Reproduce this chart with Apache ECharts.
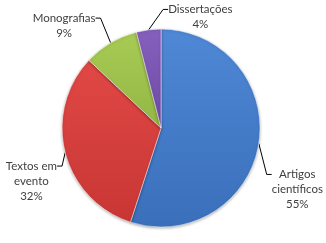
<!DOCTYPE html>
<html><head><meta charset="utf-8">
<script src="https://cdn.jsdelivr.net/npm/echarts@6/dist/echarts.min.js"></script>
<style>html,body{margin:0;padding:0;background:#fff}#c{width:326px;height:243px}</style>
</head><body><div id="c"></div>
<script>
const categories = ['Artigos científicos', 'Textos em evento', 'Monografias', 'Dissertações'];
const labelLines = [['Artigos', 'científicos'], ['Textos em', 'evento'], ['Monografias'], ['Dissertações']];
const values = [55, 32, 9, 4];
const colorsTop = ['#4f88d6', '#e04845', '#a8cb55', '#8660bd'];
const colorsBottom = ['#3a6fba', '#c83634', '#93b744', '#6c4aa3'];
const labelShift = [[-4, 29], [8.5, 10.4], [-4, -14.4], [26, -8.5]];
const labelAlign = ['left', 'right', 'right', 'left'];

const chart = echarts.init(document.getElementById('c'), null, {renderer: 'canvas'});
const LH = 15;
const data = categories.map((name, i) => {
  const nLines = labelLines[i].length + 1;
  return {
    name: name,
    value: values[i],
    itemStyle: {
      color: {type: 'linear', x: 0, y: 0, x2: 0, y2: 1, colorStops: [
        {offset: 0, color: colorsTop[i]}, {offset: 1, color: colorsBottom[i]}]}
    },
    label: {padding: [(nLines - 1) * LH, 0, 0, 0]}
  };
});
chart.setOption({
  animation: false,
  series: [{
    type: 'pie',
    center: ['49.4%', '52.7%'],
    radius: 99,
    startAngle: 90,
    clockwise: true,
    avoidLabelOverlap: false,
    data: data,
    itemStyle: {borderColor: 'rgba(255,255,255,0.5)', borderWidth: 1,
      shadowBlur: 3, shadowColor: 'rgba(0,0,0,0.3)', shadowOffsetY: 1},
    label: {
      show: true,
      position: 'outside',
      distanceToLabelLine: 2,
      color: '#404040',
      fontFamily: 'Lato',
      fontSize: 11.5,
      lineHeight: LH,
      formatter: function (p) {
        const lines = labelLines[p.dataIndex].concat([Math.round(p.percent) + '%']);
        return lines.map(l => '{c|' + l + '}').join('\n');
      },
      rich: {c: {align: 'center', fontFamily: 'Lato', fontSize: 11.5, lineHeight: LH, color: '#404040'}}
    },
    labelLine: {show: true, length: 12, length2: 5, lineStyle: {color: '#000', width: 1}},
    labelLayout: function (p) {
      const i = p.dataIndex;
      const end = p.labelLinePoints[2];
      const s = labelShift[i];
      return {x: end[0] + s[0], y: end[1] + s[1], align: labelAlign[i], verticalAlign: 'middle'};
    }
  }]
});
</script></body></html>
